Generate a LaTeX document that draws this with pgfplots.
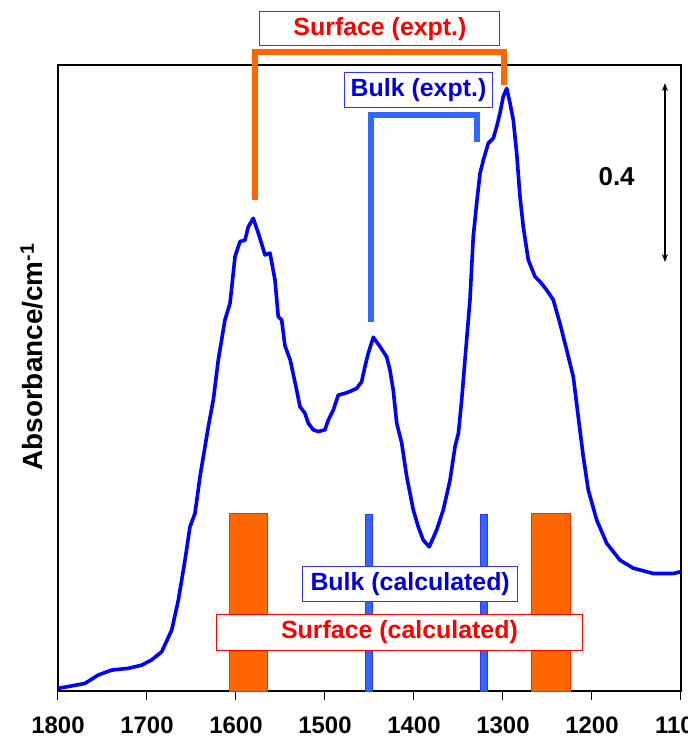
\documentclass[border=0pt]{standalone}
\usepackage{fontspec}
\setmainfont{Liberation Sans}
\usepackage{pgfplots}
\pgfplotsset{compat=1.18}
\usetikzlibrary{arrows.meta}
\definecolor{curveblue}{RGB}{0,0,255}
\definecolor{orng}{RGB}{255,102,0}
\definecolor{barred}{RGB}{255,40,0}
\definecolor{lblue}{RGB}{51,102,255}
\definecolor{boxblue}{RGB}{51,51,255}
\definecolor{txtred}{RGB}{255,0,0}
\definecolor{txtblue}{RGB}{0,0,220}
\newcommand{\fs}[1]{\fontsize{#1}{#1}\selectfont}
\begin{document}
\begin{tikzpicture}
\begin{axis}[
  scale only axis, width=623bp, height=626bp,
  xmin=1100, xmax=1800, ymin=0, ymax=1.4067, x dir=reverse,
  clip=false,
  axis line style={line width=1.6bp, black},
  xtick={1100,1200,...,1800}, ytick=\empty,
  xtick pos=bottom, tick align=outside, major tick length=9bp,
  every tick/.style={black, line width=1bp},
  /pgf/number format/assume math mode=true,
  /pgf/number format/set thousands separator={},
  xticklabel style={font=\fs{24}\bfseries, yshift=-13bp},
  ylabel={\textbf{Absorbance/cm\textsuperscript{-1}}},
  ylabel style={font=\fs{28}, at={(axis description cs:-0.0417,0.5335)}, anchor=center},
]
\coordinate (O) at (rel axis cs:0,0);
% spectrum
\addplot[curveblue, line width=3.6bp, line join=round] coordinates {
(1800,0.006) (1788.4,0.010) (1769.7,0.017) (1754.7,0.036) (1739.7,0.047)
(1721.0,0.051) (1706.0,0.058) (1694.7,0.070) (1683.5,0.088) (1672.2,0.137)
(1664.8,0.204) (1657.3,0.294) (1651.7,0.369) (1646.1,0.399) (1640.4,0.482)
(1631.1,0.594) (1625.5,0.654) (1619.9,0.744) (1612.4,0.834) (1606.7,0.871)
(1601.1,0.976) (1595.5,1.010) (1589.9,1.013) (1586.2,1.043) (1580.6,1.062)
(1574.9,1.029) (1567.4,0.980) (1561.8,0.984) (1556.2,0.924) (1552.5,0.841)
(1548.7,0.834) (1545.0,0.776) (1539.1,0.744) (1531.8,0.676) (1528.1,0.639)
(1522.5,0.624) (1518.8,0.602) (1513.2,0.587) (1507.5,0.583) (1500.0,0.587)
(1496.3,0.609) (1490.7,0.631) (1485.1,0.665) (1477.5,0.669) (1471.9,0.673)
(1464.4,0.680) (1458.8,0.695) (1455.1,0.729) (1451.4,0.759) (1445.7,0.795)
(1438.2,0.774) (1430.7,0.751) (1427.0,0.721) (1423.3,0.676) (1419.4,0.602)
(1413.8,0.557) (1408.2,0.482) (1400.8,0.407) (1395.2,0.369) (1389.6,0.339)
(1382.8,0.324) (1374.5,0.362) (1367.1,0.407) (1359.5,0.474) (1353.9,0.549)
(1350.1,0.579) (1346.4,0.654) (1342.7,0.744) (1337.1,0.879) (1333.4,1.021)
(1329.6,1.096) (1325.8,1.163) (1322.1,1.193) (1316.5,1.231) (1310.9,1.242)
(1307.1,1.268) (1303.4,1.298) (1299.7,1.336) (1295.8,1.354) (1292.1,1.321)
(1288.4,1.283) (1284.6,1.208) (1280.9,1.111) (1277.2,1.043) (1271.6,0.969)
(1264.0,0.931) (1258.4,0.920) (1250.9,0.901) (1243.5,0.879) (1236.0,0.826)
(1228.4,0.766) (1221.0,0.706) (1215.4,0.616) (1209.8,0.527) (1204.2,0.452)
(1194.7,0.384) (1183.5,0.332) (1168.5,0.294) (1153.6,0.276) (1131.1,0.264)
(1108.7,0.264) (1100.0,0.268)
};
% experimental brackets
\addplot[orng, line width=6bp] coordinates {(1578.7,1.103) (1578.7,1.436) (1298.5,1.436) (1298.5,1.362)};
\addplot[lblue, line width=6bp] coordinates {(1448.7,0.830) (1448.7,1.294) (1328.9,1.294) (1328.9,1.234)};
% calculated surface bands
\addplot[fill=orng, draw=barred, line width=1bp] coordinates {(1607.5,0) (1607.5,0.398) (1564.4,0.398) (1564.4,0)} -- cycle;
\addplot[fill=orng, draw=barred, line width=1bp] coordinates {(1267.8,0) (1267.8,0.398) (1224.7,0.398) (1224.7,0)} -- cycle;
% calculated bulk bands
\addplot[fill=lblue, draw=boxblue, line width=0.8bp] coordinates {(1454.2,0) (1454.2,0.396) (1446.4,0.396) (1446.4,0)} -- cycle;
\addplot[fill=lblue, draw=boxblue, line width=0.8bp] coordinates {(1325.2,0) (1325.2,0.396) (1317.4,0.396) (1317.4,0)} -- cycle;
% scale arrow
\addplot[black, line width=1.3bp, {Stealth[length=8bp,width=6bp]}-{Stealth[length=8bp,width=6bp]}] coordinates {(1118,1.366) (1118,0.964)};
\node[font=\fs{26}\bfseries] at (axis cs:1172.3,1.156) {0.4};
% labels
\node[draw=txtred, line width=1bp, fill=white, text=txtred, font=\fs{25}\bfseries, minimum width=240bp, minimum height=34bp, inner sep=0pt] at (axis cs:1438.2,1.488) {Surface (expt.)};
\node[draw=boxblue, line width=1bp, fill=white, text=txtblue, font=\fs{25}\bfseries, minimum width=148bp, minimum height=35bp, inner sep=0pt] at (axis cs:1394.9,1.350) {Bulk (expt.)};
\node[draw=boxblue, line width=1bp, fill=white, text=txtblue, font=\fs{25}\bfseries, minimum width=215bp, minimum height=35bp, inner sep=0pt] at (axis cs:1404.3,0.240) {Bulk (calculated)};
\node[draw=txtred, line width=1bp, fill=white, text=txtred, font=\fs{25}\bfseries, minimum width=366bp, minimum height=36bp, inner sep=0pt] at (axis cs:1416.3,0.132) {Surface (calculated)};
\end{axis}
\pgfresetboundingbox
\path[use as bounding box] (O) ++(-58bp,-51bp) rectangle ++(688bp,742bp);
\end{tikzpicture}
\end{document}
